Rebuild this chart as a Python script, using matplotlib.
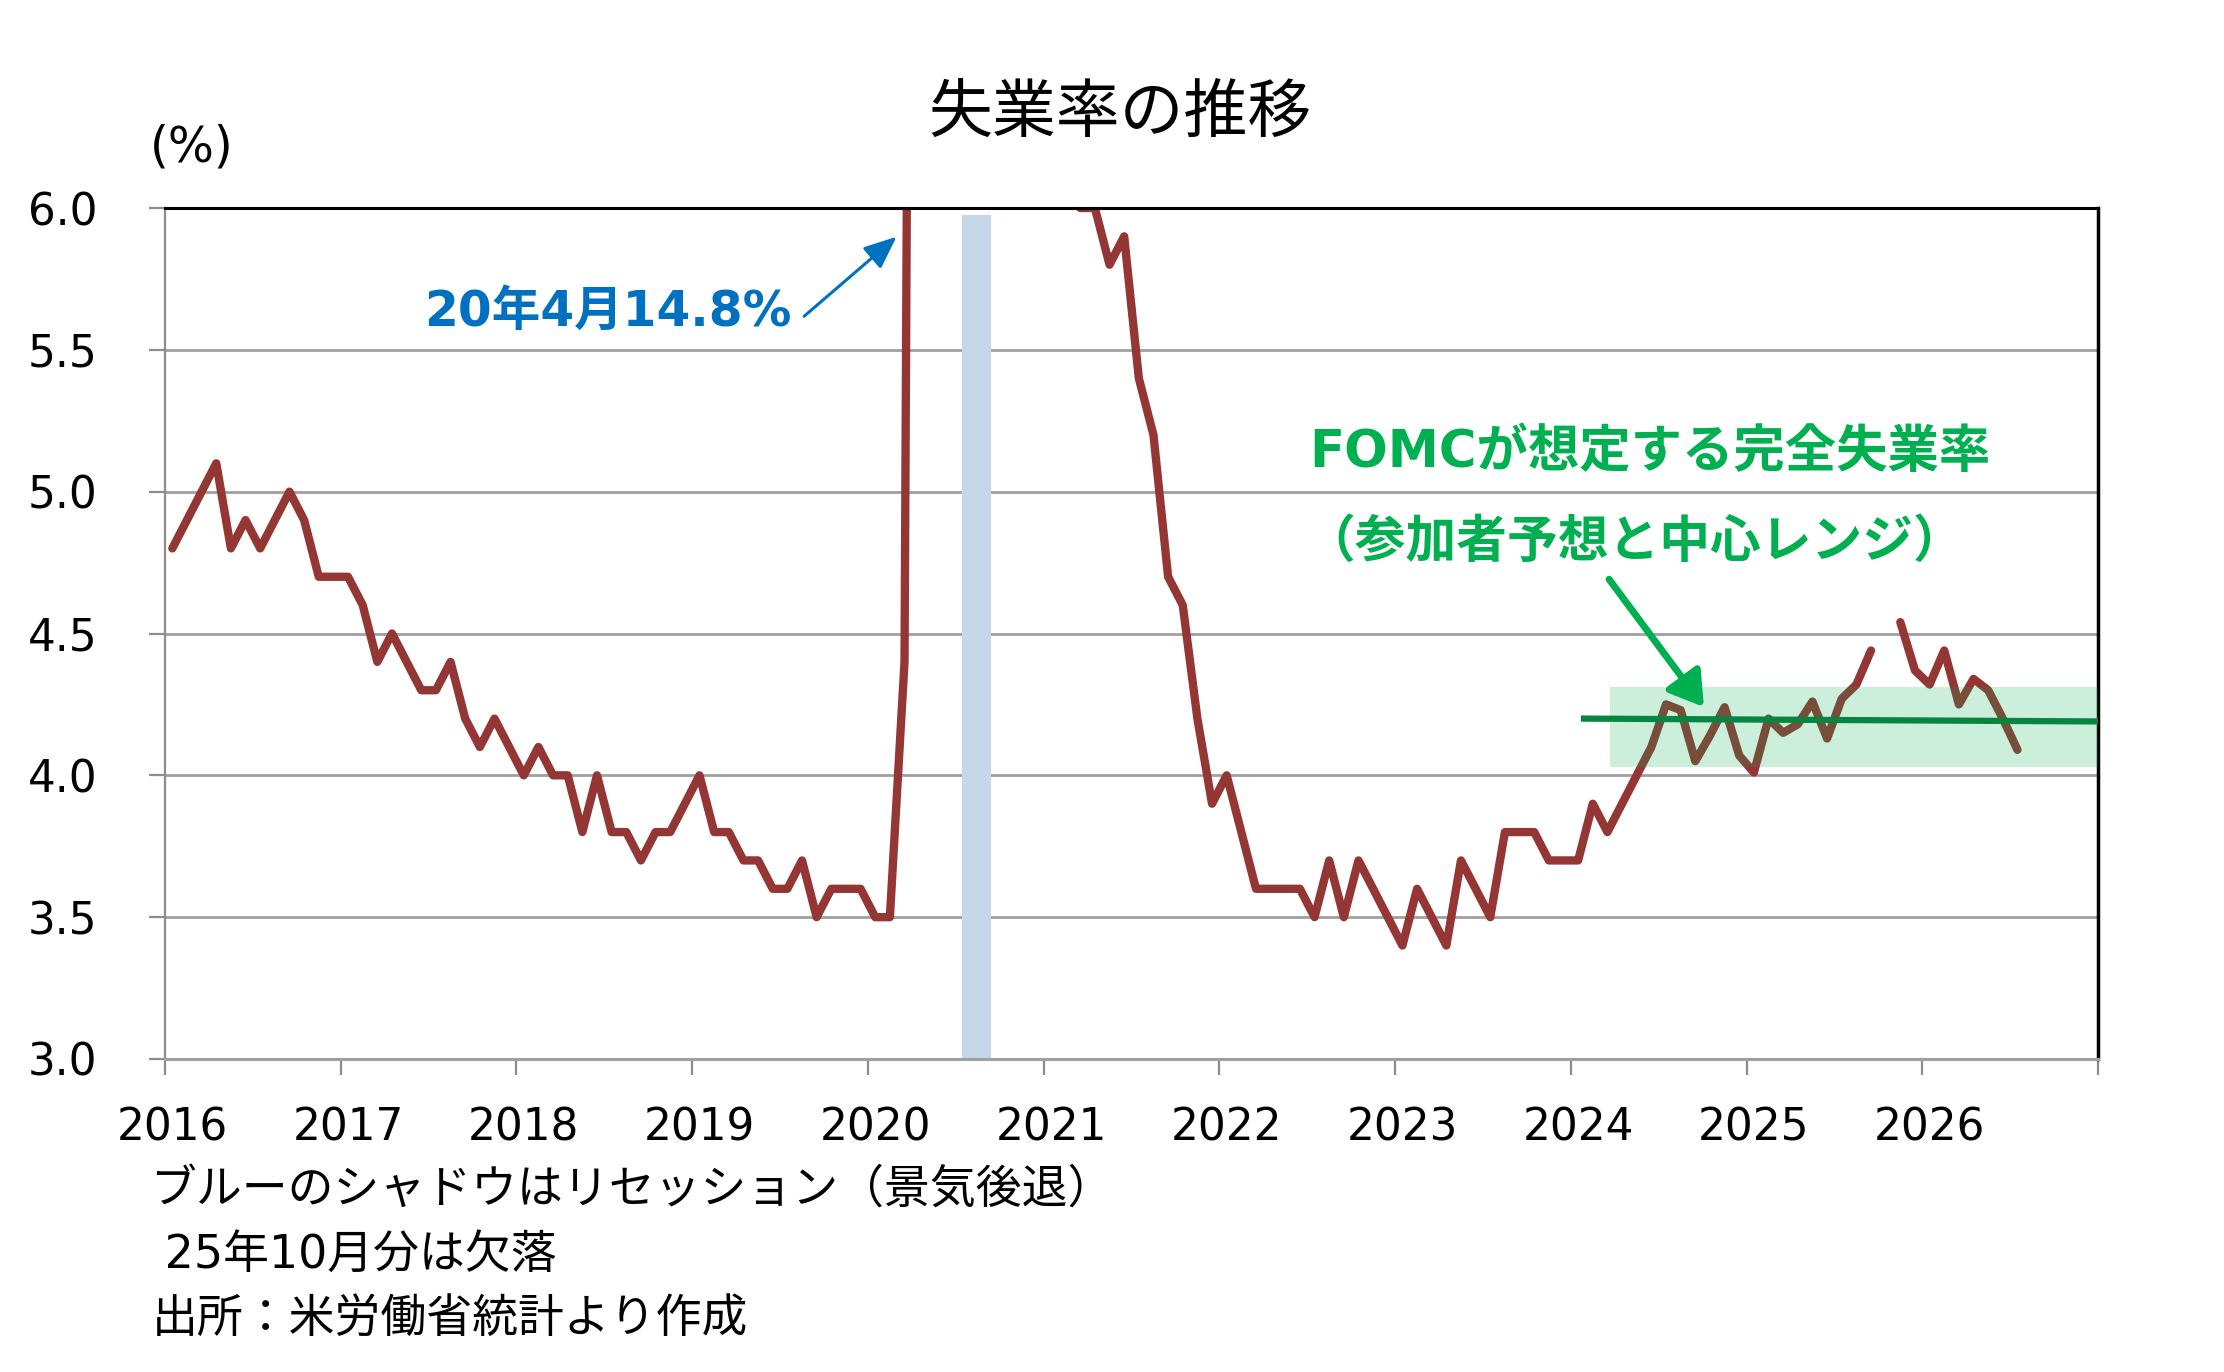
import numpy as np
import matplotlib
matplotlib.use("Agg")
import matplotlib.pyplot as plt

plt.rcParams['font.family'] = ['DejaVu Sans', 'Noto Sans CJK JP']

# ─── Data: US unemployment rate, monthly from 2016-01 (Oct 2025 missing) ───
rate_2016 = [4.8, 4.9, 5.0, 5.1, 4.8, 4.9, 4.8, 4.9, 5.0, 4.9, 4.7, 4.7]
rate_2017 = [4.7, 4.6, 4.4, 4.5, 4.4, 4.3, 4.3, 4.4, 4.2, 4.1, 4.2, 4.1]
rate_2018 = [4.0, 4.1, 4.0, 4.0, 3.8, 4.0, 3.8, 3.8, 3.7, 3.8, 3.8, 3.9]
rate_2019 = [4.0, 3.8, 3.8, 3.7, 3.7, 3.6, 3.6, 3.7, 3.5, 3.6, 3.6, 3.6]
rate_2020 = [3.5, 3.5, 4.4, 14.8, 13.2, 11.0, 10.2, 8.4, 7.8, 6.9, 6.7, 6.7]
rate_2021 = [6.4, 6.2, 6.0, 6.0, 5.8, 5.9, 5.4, 5.2, 4.7, 4.6, 4.2, 3.9]
rate_2022 = [4.0, 3.8, 3.6, 3.6, 3.6, 3.6, 3.5, 3.7, 3.5, 3.7, 3.6, 3.5]
rate_2023 = [3.4, 3.6, 3.5, 3.4, 3.7, 3.6, 3.5, 3.8, 3.8, 3.8, 3.7, 3.7]
rate_2024 = [3.7, 3.9, 3.8, 3.9, 4.0, 4.1, 4.25, 4.23, 4.05, 4.14, 4.24, 4.07]
rate_2025 = [4.01, 4.20, 4.15, 4.18, 4.26, 4.13, 4.27, 4.32, 4.44, np.nan, 4.54, 4.37]
rate_2026 = [4.32, 4.44, 4.25, 4.34, 4.30, 4.20, 4.09]

rates = np.array(rate_2016 + rate_2017 + rate_2018 + rate_2019 + rate_2020 +
                 rate_2021 + rate_2022 + rate_2023 + rate_2024 + rate_2025 +
                 rate_2026)
months = np.arange(len(rates))

years = [str(y) for y in range(2016, 2027)]
n_months_axis = 12 * 11

# recession shading (month-index centre, width in months, top)
recession_center = 54.9
recession_width = 2.0
recession_top = 5.976

# FOMC longer-run unemployment: central tendency band and median line
fomc_band_start = 98.2
fomc_band_low, fomc_band_high = 4.03, 4.31
fomc_line_x = [96.4, n_months_axis - 0.5]
fomc_line_y = [4.20, 4.19]

RED = '#943634'
BLUE = '#0070C0'
GREEN = '#00B050'
DKGREEN = '#07843F'
GRAY = '#A0A0A0'

fig = plt.figure(figsize=(22.24, 13.72), dpi=100)
ax = fig.add_axes([165 / 2224, 1 - 1059 / 1372, (2098 - 165) / 2224, (1059 - 208) / 1372])

ax.bar(recession_center, recession_top - 3.0, width=recession_width, bottom=3.0,
       color='#C6D7EC', zorder=1)

ax.plot(months, rates, color=RED, lw=6.0, solid_joinstyle='round',
        solid_capstyle='round', zorder=2)

ax.fill_between([fomc_band_start, n_months_axis - 0.5], fomc_band_low, fomc_band_high,
                color=GREEN, alpha=0.2, lw=0, zorder=3)
ax.plot(fomc_line_x, fomc_line_y, color=DKGREEN, lw=4.5, zorder=4)

ax.set_xlim(-0.5, n_months_axis - 0.5)
ax.set_ylim(3.0, 6.0)

# y axis
ax.set_yticks(np.arange(3.0, 6.01, 0.5))
ax.set_yticklabels([f"{v:.1f}" for v in np.arange(3.0, 6.01, 0.5)])
ax.yaxis.grid(True, color=GRAY, lw=2.0, zorder=0)
ax.set_axisbelow(True)

# x axis: ticks at year boundaries, labels at January
ax.set_xticks(np.arange(-0.5, n_months_axis, 12))
ax.set_xticklabels([])
ax.set_xticks(np.arange(0, 12 * len(years), 12), minor=True)
ax.set_xticklabels(years, minor=True)

ax.tick_params(axis='both', which='major', direction='out', length=11.5, width=1.6,
               color='#8C8C8C', labelsize=31.5)
ax.tick_params(axis='y', pad=37)
ax.tick_params(axis='x', which='minor', length=0, labelsize=31.5, pad=34)

ax.spines['left'].set_color('#8C8C8C')
ax.spines['left'].set_linewidth(1.6)
ax.spines['bottom'].set_color(GRAY)
ax.spines['bottom'].set_linewidth(2.2)
ax.spines['top'].set_color('black')
ax.spines['top'].set_linewidth(2.2)
ax.spines['right'].set_color('black')
ax.spines['right'].set_linewidth(2.5)

# annotations
ax.text(42.3, 5.633, "20年4月14.8%", color=BLUE, fontsize=35, fontweight='bold',
        ha='right', va='center', zorder=6)
ax.annotate('', xy=(49.6, 5.905), xytext=(43.0, 5.612),
            arrowprops=dict(arrowstyle='-|>,head_length=0.4,head_width=0.17',
                            color=BLUE, lw=2.2, mutation_scale=50), zorder=6)

ax.text(100.9, 5.138, "FOMCが想定する完全失業率", color=GREEN, fontsize=37,
        fontweight='bold', ha='center', va='center', zorder=6)
ax.text(99.8, 4.819, "（参加者予想と中心レンジ）", color=GREEN, fontsize=36.5,
        fontweight='bold', ha='center', va='center', zorder=6)
ax.annotate('', xy=(104.7, 4.233), xytext=(98.0, 4.699),
            arrowprops=dict(arrowstyle='-|>,head_length=0.45,head_width=0.28',
                            color=GREEN, lw=5, mutation_scale=45), zorder=6)

# title, unit, footnotes
fig.text(1120 / 2224, 1 - 114 / 1372, "失業率の推移", fontsize=46, ha='center', va='center')
fig.text(150 / 2224, 1 - 147 / 1372, "(%)", fontsize=35, ha='left', va='center')
fig.text(150 / 2224, 1 - 1191 / 1372, "ブルーのシャドウはリセッション（景気後退）",
         fontsize=33, ha='left', va='center')
fig.text(150 / 2224, 1 - 1255 / 1372, " 25年10月分は欠落",
         fontsize=33, ha='left', va='center')
fig.text(152 / 2224, 1 - 1319 / 1372, "出所：米労働省統計より作成",
         fontsize=33, ha='left', va='center')

fig.savefig("out.png", dpi=100, facecolor='white')
